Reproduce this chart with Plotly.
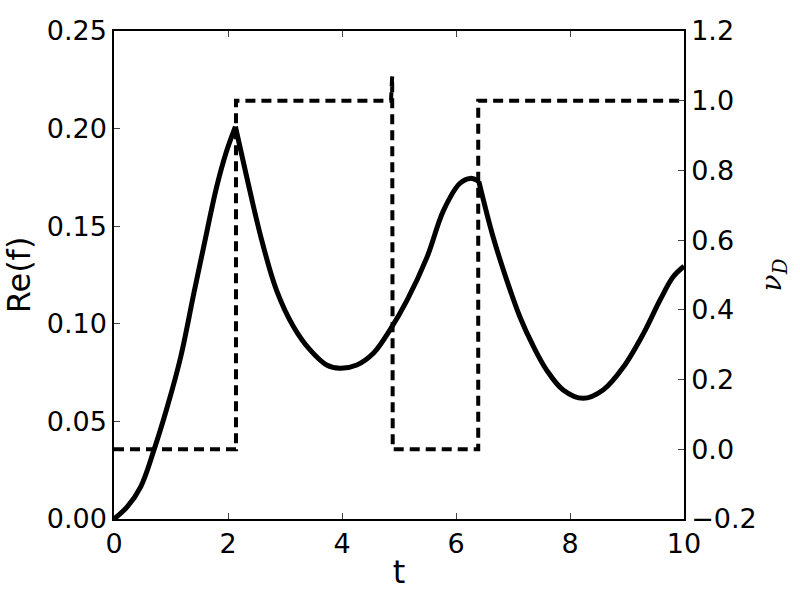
import plotly.graph_objects as go

# Re(f) curve
t_vals = [0, 0.234, 0.468, 0.70, 0.935, 1.17, 1.40, 1.57, 1.80, 1.97, 2.13,
          2.33, 2.59, 2.85, 3.15, 3.44, 3.73, 3.96, 4.26, 4.55, 4.84, 5.14, 5.49,
          5.78, 6.07, 6.25, 6.40,
          6.65, 6.89, 7.12, 7.36, 7.59, 7.88, 8.23, 8.58, 8.94, 9.29, 9.58, 9.81, 10.0]
re_f = [0, 0.0063, 0.0165, 0.0353, 0.0575, 0.083, 0.1155, 0.139, 0.170, 0.188, 0.201,
        0.175, 0.143, 0.1173, 0.0985, 0.0866, 0.0789, 0.0772, 0.0789, 0.0849, 0.0968,
        0.112, 0.134, 0.158, 0.172, 0.1745, 0.173,
        0.1446, 0.1224, 0.1036, 0.0883, 0.0763, 0.0661, 0.0618, 0.0661, 0.078,
        0.0951, 0.1122, 0.1241, 0.1295]

# nu_D step signal
nu_t = [0, 2.14, 2.14, 4.86, 4.88, 4.89, 6.39, 6.39, 10]
nu_d = [0, 0, 1, 1, 1.07, 0, 0, 1, 1]

x_ticks = [0, 2, 4, 6, 8, 10]
y_ticks = [0, 0.05, 0.10, 0.15, 0.20, 0.25]
y2_ticks = [-0.2, 0.0, 0.2, 0.4, 0.6, 0.8, 1.0, 1.2]

fig = go.Figure()
# draw the curve in smooth pieces, keeping the sharp corners where nu_D switches
kinks = [0, t_vals.index(2.13), t_vals.index(6.40), len(t_vals) - 1]
for a, b in zip(kinks[:-1], kinks[1:]):
    fig.add_trace(go.Scatter(x=t_vals[a:b + 1], y=re_f[a:b + 1], mode="lines",
                             line=dict(color="black", width=5, shape="spline",
                                       smoothing=1.0),
                             showlegend=False))
fig.add_trace(go.Scatter(x=nu_t, y=nu_d, mode="lines", yaxis="y2",
                         line=dict(color="black", width=4, dash="10px,6px"),
                         showlegend=False))

font = dict(family="DejaVu Sans", size=27, color="black")
fig.update_layout(
    width=800, height=600,
    margin=dict(l=114, r=116, t=31, b=81, autoexpand=False),
    plot_bgcolor="white", paper_bgcolor="white",
    font=font,
    xaxis=dict(range=[0, 10], tickvals=x_ticks, ticks="inside", ticklen=6,
               showline=True, linecolor="black", linewidth=1.5, mirror="ticks",
               showgrid=False, zeroline=False, automargin=False,
               title=dict(text="t", standoff=2), tickfont=font),
    yaxis=dict(range=[0, 0.25], tickvals=y_ticks, tickformat=".2f", ticks="inside",
               ticklen=6, showline=True, linecolor="black", linewidth=1.5,
               mirror=True, showgrid=False, zeroline=False, automargin=False,
               title=dict(text="Re(f)", standoff=7), tickfont=font),
    yaxis2=dict(range=[-0.2, 1.2], tickvals=y2_ticks, tickformat=".1f",
                overlaying="y", side="right", ticks="inside", ticklen=6,
                showline=True, linecolor="black", linewidth=1.5,
                showgrid=False, zeroline=False, automargin=False,
                title=dict(text="<i>ν</i><sub><i>D</i></sub>", standoff=6,
                           font=dict(family="DejaVu Serif", size=28, color="black")),
                tickfont=font),
)
fig.write_html("out.html", config={"displayModeBar": False},
               post_script="document.body.style.margin='0';"
                           "document.body.style.overflow='hidden';")
